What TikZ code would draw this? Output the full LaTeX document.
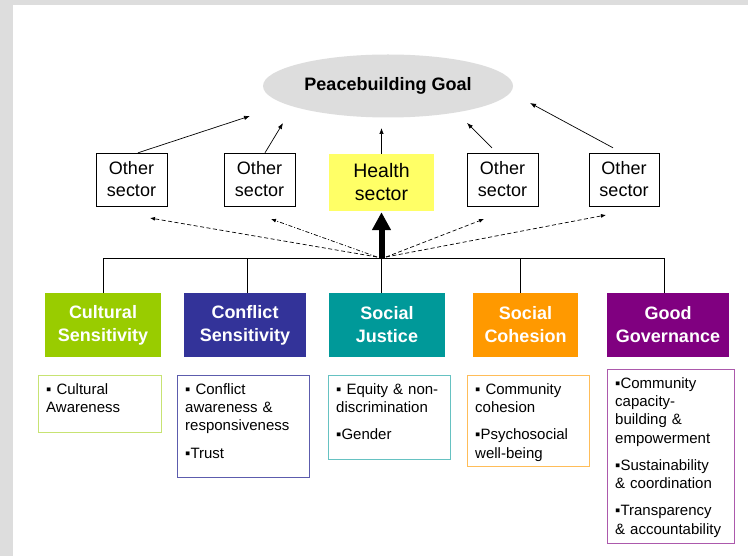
\documentclass[tikz,border=0pt]{standalone}
\usepackage{fontspec}
\setmainfont{Liberation Sans}
\usepackage{tikz}
\usetikzlibrary{arrows.meta}
\usetikzlibrary{shapes}
\definecolor{bggrey}{HTML}{DDDDDD}
\definecolor{hsyellow}{HTML}{FFFF66}
\definecolor{culgreen}{HTML}{99CC00}
\definecolor{conblue}{HTML}{333399}
\definecolor{justeal}{HTML}{009999}
\definecolor{cohorange}{HTML}{FF9900}
\definecolor{govpurple}{HTML}{800080}
\newcommand{\sectorfont}{\fontsize{18}{22}\selectfont}
\newcommand{\pillarfont}{\fontsize{18}{23}\selectfont\bfseries}
\newcommand{\listfont}{\fontsize{15}{18.3}\selectfont}
\tikzset{
    sector/.style={
        draw,
        align=center,
        minimum width=71pt,
        minimum height=53pt,
        inner sep=0pt,
        font=\sectorfont
    },
    pillar/.style={
        fill=#1,
        text=white,
        align=center,
        minimum height=64pt,
        inner sep=0pt,
        font=\pillarfont
    },
    items/.style={
        draw=#1,
        anchor=north west,
        align=left,
        inner xsep=8pt,
        inner ysep=8pt,
        text height=11pt,
        font=\listfont
    },
    goalarrow/.style={
        -{Latex[length=6pt,width=4.5pt]},
        line width=0.7pt
    },
    spill/.style={
        -{Latex[length=5pt,width=4pt]},
        line width=0.7pt,
        dash pattern=on 4pt off 2.5pt
    }
}
\begin{document}
\begin{tikzpicture}[x=1pt,y=-1pt]
    \fill[bggrey] (0,0) rectangle (748,556);
    \fill[white] (13,5) rectangle (748,556);
    \useasboundingbox (0,0) rectangle (748,556);

    % goal and sectors
    \node[ellipse, fill=bggrey, inner sep=0pt, minimum width=250pt, minimum height=63pt,
          font=\sectorfont\bfseries] (goal) at (388,86) {Peacebuilding Goal};
    \node[sector] (o1) at (131.5,179.5) {Other\\sector};
    \node[sector] (o2) at (259.5,179.5) {Other\\sector};
    \node[sector, fill=hsyellow, draw=none, minimum width=105pt, minimum height=57pt,
          font=\fontsize{19.5}{23}\selectfont] (hs) at (381.5,182.5) {Health\\sector};
    \node[sector] (o4) at (502.5,179.5) {Other\\sector};
    \node[sector, minimum width=70pt] (o5) at (624,179.5) {Other\\sector};

    \coordinate (t1) at (250,116);
    \coordinate (t2) at (283,123);
    \coordinate (t3) at (381.5,128);
    \coordinate (t4) at (467,123);
    \coordinate (t5) at (530,103);
    \draw[goalarrow] ([xshift=6.5pt]o1.north) -- (t1);
    \draw[goalarrow] ([xshift=5.5pt]o2.north) -- (t2);
    \draw[goalarrow] (hs.north) -- (t3);
    \draw[goalarrow] ([xshift=-10.5pt,yshift=5pt]o4.north) -- (t4);
    \draw[goalarrow] ([xshift=-11pt,yshift=5pt]o5.north) -- (t5);

    % pillars
    \node[pillar=culgreen, minimum width=116pt] (cs) at (103,325) {Cultural\\Sensitivity};
    \node[pillar=conblue, minimum width=122pt] (cn) at (245,325) {Conflict\\Sensitivity};
    \node[pillar=justeal, minimum width=116pt] (sj) at (387,325) {Social\\Justice};
    \node[pillar=cohorange, minimum width=105pt] (sc) at (525.5,325) {Social\\Cohesion};
    \node[pillar=govpurple, minimum width=122pt] (gg) at (668,325) {Good\\Governance};

    \coordinate (busW) at (103,258);
    \coordinate (busE) at (664,258);
    \draw[line width=0.8pt] (busW) -- (busE);
    \foreach \n/\s in {cs/0,cn/2,sj/-6,sc/-5.5,gg/-4}
      \draw[line width=0.8pt] ([xshift=\s pt]\n.north) -- ++(0,-35);

    % health sector gets the push, the others the spill-over
    \coordinate (hub) at (381.5,258);
    \draw[line width=6pt, -{Triangle[length=18pt,width=18pt]}, shorten >=1pt] (hub) -- (hs.south);
    \coordinate (hubL) at (377,257);
    \coordinate (hubR) at (386,257);
    \coordinate (d1) at (150,218);
    \coordinate (d2) at (271,219);
    \coordinate (d4) at (484,219);
    \coordinate (d5) at (606,215);
    \foreach \h/\t in {hubL/d1,hubR/d4,hubR/d5}
      \draw[spill] (\h) -- (\t);
    \draw[spill, dash pattern=on 4pt off 2pt on 1pt off 2pt] (hubL) -- (d2);

    % items under each pillar
    \node[items=culgreen!55, text width=107pt, text depth=30pt] (csl) at (38,375)
      {▪ Cultural\\Awareness};
    \node[items=conblue!80, text width=116pt, text depth=75pt] (cnl) at (177,375)
      {▪ Conflict\\awareness \&\\responsiveness\\[9pt]▪Trust};
    \node[items=justeal!60, text width=106pt, text depth=57pt] (sjl) at (328,375)
      {▪ Equity \& non-\\discrimination\\[9pt]▪Gender};
    \node[items=cohorange!65, text width=106pt, text depth=64pt] (scl) at (467,375)
      {▪ Community\\cohesion\\[9pt]▪Psychosocial\\well-being};
    \node[items=govpurple!65, text width=111pt, text depth=147pt] (ggl) at (607,369)
      {▪Community\\capacity-\\building \&\\empowerment\\[9pt]▪Sustainability\\\& coordination\\[9pt]▪Transparency\\\& accountability};
\end{tikzpicture}
\end{document}
